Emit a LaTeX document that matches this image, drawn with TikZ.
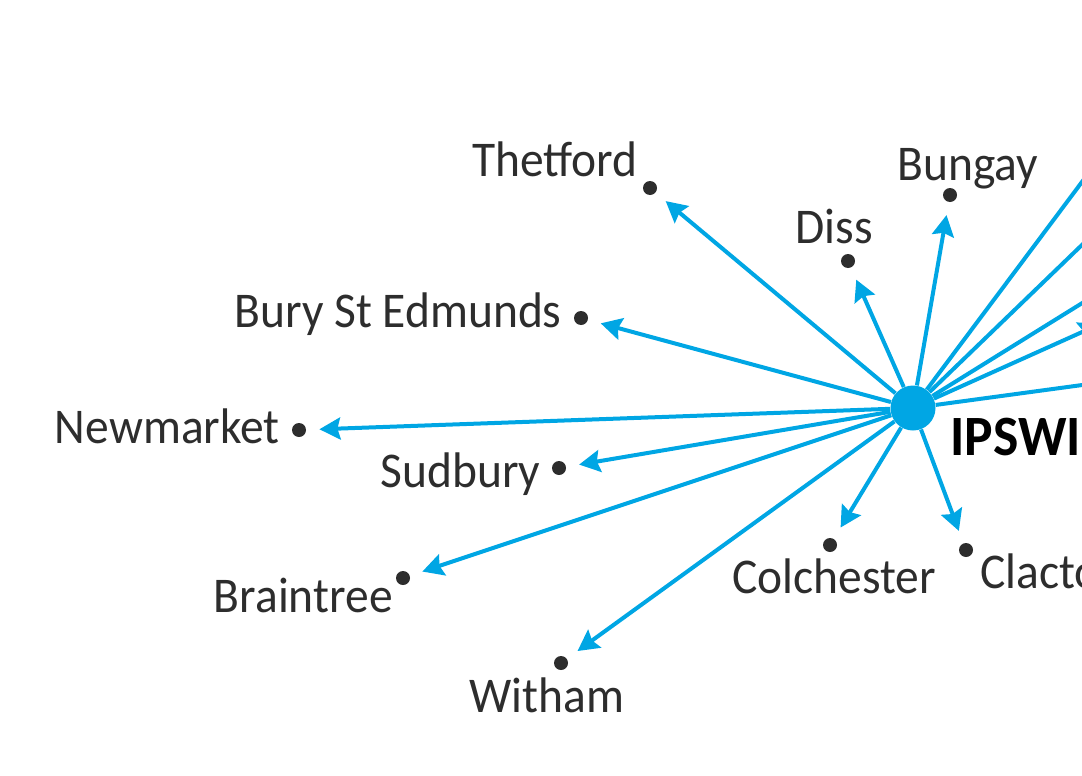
\documentclass[tikz,border=0pt]{standalone}
\usepackage{fontspec}
\setmainfont{Carlito}[FakeStretch=0.95]
\newfontfamily\hubfont{Carlito}[FakeStretch=0.94]
\usetikzlibrary{arrows.meta}
\definecolor{routeblue}{HTML}{00A6E4}
\definecolor{towngrey}{HTML}{2D2D2D}

\begin{document}
\begin{tikzpicture}[x=0.5pt,y=-0.5pt,
  town/.style={shape=circle,fill=towngrey,inner sep=0pt,minimum size=7pt},
  townlabel/.style={text=towngrey,inner sep=0pt,font=\fontsize{25}{30}\selectfont},
  route/.style={draw=routeblue,line width=2pt,-{Stealth[length=10.5pt,width=11pt,inset=1.5pt]},shorten >=6.5pt}]
\useasboundingbox (0,0) rectangle (1082,776);
\node[shape=circle,fill=routeblue,minimum size=22.5pt,inner sep=0pt] (hub) at (913,408) {};
\node[anchor=base west,inner sep=0pt,font=\hubfont\fontsize{28.5}{34}\selectfont\bfseries] (ipswich) at (950,455) {IPSWICH};
\node[town] (thetford) at (650,188) {};
\node[town] (diss) at (848,261) {};
\node[town] (bungay) at (950,195) {};
\node[town] (bury) at (581,318) {};
\node[town] (newmarket) at (299,430) {};
\node[town] (sudbury) at (559,468) {};
\node[town] (braintree) at (403,578) {};
\node[town] (witham) at (561,663) {};
\node[town] (colchester) at (830,545) {};
\node[town] (clacton) at (966,550) {};
\node[townlabel,anchor=base east] (thetfordlabel) at (638,176) {Thetford};
\node[townlabel,anchor=base west] (disslabel) at (795,243) {Diss};
\node[townlabel,anchor=base west] (bungaylabel) at (897,180) {Bungay};
\node[townlabel,anchor=base east] (burylabel) at (562,327) {Bury St Edmunds};
\node[townlabel,anchor=base east] (newmarketlabel) at (280,443) {Newmarket};
\node[townlabel,anchor=base east] (sudburylabel) at (541,487) {Sudbury};
\node[townlabel,anchor=base east] (braintreelabel) at (393,612) {Braintree};
\node[townlabel,anchor=base west] (withamlabel) at (469,712) {Witham};
\node[townlabel,anchor=base west] (colchesterlabel) at (732,593) {Colchester};
\node[townlabel,anchor=base west] (clactonlabel) at (980,588) {Clacton};
\coordinate (eastA) at (1200,24);
\coordinate (eastB) at (1200,131);
\coordinate (eastC) at (1200,230);
\coordinate (eastD) at (1100,324);
\coordinate (eastE) at (1200,369);
\path [] (hub) edge[route] (thetford);
\path [] (hub) edge[route] (diss);
\path [] (hub) edge[route] (bungay);
\path [] (hub) edge[route] (bury);
\path [] (hub) edge[route] (newmarket);
\path [] (hub) edge[route] (sudbury);
\path [] (hub) edge[route] (braintree);
\path [] (hub) edge[route] (witham);
\path [] (hub) edge[route] (colchester);
\path [] (hub) edge[route] (clacton);
\path [] (hub) edge[route,shorten >=0pt] (eastA);
\path [] (hub) edge[route,shorten >=0pt] (eastB);
\path [] (hub) edge[route,shorten >=0pt] (eastC);
\path [] (hub) edge[route,shorten >=0pt] (eastD);
\path [] (hub) edge[route,shorten >=0pt] (eastE);
\end{tikzpicture}
\end{document}
